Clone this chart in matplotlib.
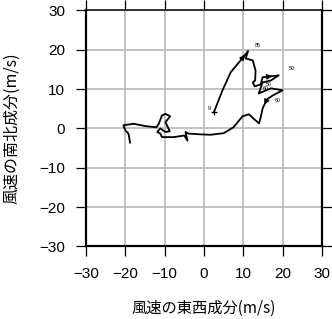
import matplotlib
matplotlib.use("Agg")
import matplotlib.pyplot as plt

# wind vector trajectory (east-west component, north-south component) in m/s
u = [2.5, 4.7, 6.8, 9.3, 11.2, 10.6, 12.4, 13.1, 13.0, 12.4, 12.9, 14.4, 14.9, 19.0,
     17.0, 14.9, 13.9, 17.0, 20.0, 17.5, 16.0, 14.9, 14.4, 14.0, 12.6, 11.4, 9.8, 7.5,
     5.0, 1.7, -0.9, -4.0, -4.7, -4.2, -5.0, -7.8, -10.7, -11.1, -11.9, -11.1, -9.8,
     -8.7, -9.8, -8.6, -9.8, -10.7, -11.5, -12.1, -14.9, -17.9, -20.5, -20.0, -19.2, -18.8]
v = [4.1, 9.7, 14.3, 17.3, 19.7, 17.8, 17.3, 14.7, 12.2, 11.7, 10.7, 11.2, 13.0, 13.5,
     12.2, 11.7, 8.9, 10.2, 9.7, 8.4, 7.4, 5.1, 2.8, 1.3, 2.5, 3.6, 3.1, 0.3,
     -1.2, -1.6, -1.5, -1.3, -0.9, -3.1, -1.8, -2.2, -2.2, -1.3, -0.9, 0.0, -0.9,
     -0.7, 1.6, 3.1, 3.7, 3.3, 1.2, 0.3, 0.6, 1.2, 0.8, -0.5, -1.3, -3.6]

# small time labels along the track
lab_text = ["9", "85", "50", "50", "60", "60"]
lab_u = [1.4, 13.6, 22.2, 16.4, 15.8, 18.6]
lab_v = [5.0, 21.2, 15.2, 11.3, 10.2, 7.0]

# arrow heads (segment start index)
arrow_idx = [3, 12, 20]

ticks = [-30, -20, -10, 0, 10, 20, 30]
tick_labels = ["\u221230", "\u221220", "\u221210", "0", "10", "20", "30"]

plt.rcParams['font.family'] = ['Liberation Sans', 'Noto Sans CJK JP', 'DejaVu Sans']

fig = plt.figure(figsize=(3.32, 3.19), dpi=100)
ax = fig.add_axes([0.259, 0.2273, 0.711, 0.740])
ax.set_xlim(-30, 30)
ax.set_ylim(-30, 30)
ax.set_xticks(ticks)
ax.set_yticks(ticks)
ax.set_xticklabels(tick_labels, fontsize=11)
ax.set_yticklabels(tick_labels, fontsize=11)
ax.grid(True, color='#bdbdbd', linewidth=1.3)
ax.set_axisbelow(True)
ax.tick_params(direction='out', length=7, width=0.9, color='black',
               top=True, right=True, labeltop=False, labelright=False)
ax.tick_params(axis='x', pad=8)
ax.tick_params(axis='y', pad=8)

for s in ['left', 'bottom', 'right']:
    ax.spines[s].set_linewidth(1.6)
ax.spines['top'].set_linewidth(1.1)

ax.plot(u, v, color='black', linewidth=1.3, solid_joinstyle='round', zorder=3)
ax.plot([u[0]], [v[0]], marker='+', color='black', markersize=4, mew=0.9, zorder=4)

for i in arrow_idx:
    x0, y0 = u[i], v[i]
    x1, y1 = u[i + 1], v[i + 1]
    ax.annotate('', xy=(x0 + 0.6 * (x1 - x0), y0 + 0.6 * (y1 - y0)), xytext=(x0, y0),
                arrowprops=dict(arrowstyle='-|>', color='black', lw=0.8,
                                mutation_scale=8, shrinkA=0, shrinkB=0), zorder=4)

for t, x, y in zip(lab_text, lab_u, lab_v):
    ax.text(x, y, t, fontsize=3.8, ha='center', va='center', zorder=5)

ax.set_xlabel("風速の東西成分(m/s)", fontsize=11,
              family=['Noto Sans CJK JP', 'DejaVu Sans'], labelpad=13)
ax.set_ylabel("風速の南北成分(m/s)", fontsize=11.5,
              family=['Noto Sans CJK JP', 'DejaVu Sans'], labelpad=14)

fig.savefig("out.png", dpi=100)
